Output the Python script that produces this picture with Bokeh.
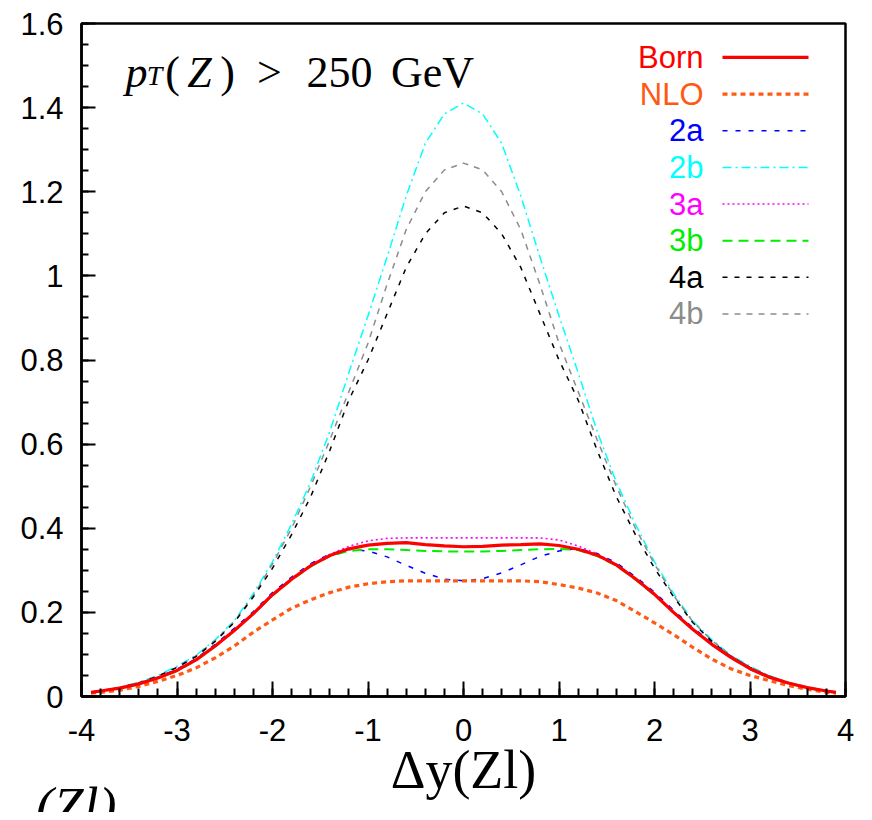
from bokeh.plotting import figure
from bokeh.models import FixedTicker, Label, PrintfTickFormatter, Title
from bokeh.embed import file_html
from bokeh.resources import INLINE
import numpy as np

# ---------------- data ----------------
dy_vals = [-3.9, -3.8, -3.6, -3.4, -3.2, -3.0, -2.8, -2.6, -2.4, -2.2, -2.0, -1.8, -1.6, -1.4,
           -1.2, -1.0, -0.8, -0.6, -0.4, -0.2, 0.0, 0.2, 0.4, 0.6, 0.8, 1.0, 1.2, 1.4, 1.6,
           1.8, 2.0, 2.2, 2.4, 2.6, 2.8, 3.0, 3.2, 3.4, 3.6, 3.8, 3.9]

born = [0.010, 0.013, 0.020, 0.030, 0.044, 0.062, 0.087, 0.120, 0.157, 0.197, 0.242, 0.279, 0.311, 0.335,
        0.351, 0.360, 0.364, 0.366, 0.361, 0.358, 0.356, 0.357, 0.360, 0.361, 0.363, 0.359, 0.350, 0.336,
        0.313, 0.280, 0.243, 0.200, 0.160, 0.124, 0.093, 0.066, 0.046, 0.032, 0.021, 0.013, 0.010]

nlo = [0.008, 0.010, 0.015, 0.024, 0.036, 0.050, 0.068, 0.092, 0.120, 0.153, 0.182, 0.210, 0.230, 0.247,
       0.260, 0.268, 0.273, 0.275, 0.275, 0.275, 0.275, 0.275, 0.275, 0.275, 0.273, 0.266, 0.258, 0.246,
       0.228, 0.202, 0.175, 0.147, 0.117, 0.089, 0.066, 0.050, 0.038, 0.026, 0.017, 0.010, 0.008]

s2a = [0.010, 0.013, 0.021, 0.031, 0.046, 0.065, 0.090, 0.124, 0.162, 0.202, 0.247, 0.284, 0.316, 0.339,
       0.350, 0.346, 0.332, 0.312, 0.293, 0.279, 0.275, 0.280, 0.294, 0.313, 0.333, 0.346, 0.352, 0.340,
       0.318, 0.285, 0.248, 0.205, 0.164, 0.128, 0.096, 0.068, 0.047, 0.033, 0.021, 0.013, 0.010]

s2b = [0.011, 0.014, 0.022, 0.034, 0.050, 0.072, 0.098, 0.135, 0.180, 0.245, 0.320, 0.410, 0.510, 0.630,
       0.770, 0.905, 1.045, 1.190, 1.315, 1.385, 1.411, 1.385, 1.315, 1.190, 1.045, 0.905, 0.770, 0.630,
       0.510, 0.410, 0.320, 0.245, 0.180, 0.135, 0.098, 0.072, 0.050, 0.034, 0.022, 0.014, 0.011]

s3a = [0.010, 0.013, 0.020, 0.031, 0.045, 0.063, 0.088, 0.121, 0.158, 0.198, 0.243, 0.280, 0.313, 0.338,
       0.357, 0.370, 0.376, 0.377, 0.377, 0.377, 0.377, 0.377, 0.377, 0.377, 0.377, 0.372, 0.358, 0.339,
       0.314, 0.281, 0.244, 0.201, 0.161, 0.125, 0.094, 0.067, 0.047, 0.032, 0.021, 0.013, 0.010]

s3b = [0.010, 0.013, 0.020, 0.030, 0.044, 0.061, 0.086, 0.119, 0.156, 0.196, 0.240, 0.277, 0.309, 0.334,
       0.346, 0.350, 0.350, 0.348, 0.346, 0.345, 0.345, 0.345, 0.346, 0.348, 0.350, 0.351, 0.348, 0.334,
       0.311, 0.278, 0.241, 0.199, 0.159, 0.123, 0.092, 0.065, 0.045, 0.031, 0.020, 0.013, 0.010]

s4a = [0.010, 0.013, 0.021, 0.032, 0.048, 0.069, 0.095, 0.131, 0.176, 0.237, 0.305, 0.385, 0.475, 0.585,
       0.705, 0.800, 0.910, 1.020, 1.100, 1.150, 1.166, 1.150, 1.100, 1.020, 0.910, 0.800, 0.705, 0.585,
       0.475, 0.385, 0.305, 0.237, 0.176, 0.131, 0.095, 0.069, 0.048, 0.032, 0.021, 0.013, 0.010]

s4b = [0.011, 0.014, 0.022, 0.033, 0.049, 0.070, 0.097, 0.133, 0.178, 0.240, 0.315, 0.400, 0.500, 0.610,
       0.725, 0.840, 0.980, 1.110, 1.200, 1.252, 1.268, 1.252, 1.200, 1.110, 0.980, 0.840, 0.725, 0.610,
       0.500, 0.400, 0.315, 0.240, 0.178, 0.133, 0.097, 0.070, 0.049, 0.033, 0.022, 0.014, 0.011]

series_names = ["Born", "NLO", "2a", "2b", "3a", "3b", "4a", "4b"]
x_ticks = [-4, -3, -2, -1, 0, 1, 2, 3, 4]
y_ticks = [0, 0.2, 0.4, 0.6, 0.8, 1.0, 1.2, 1.4, 1.6]
x_label = "Δy(Zl)"
fragment_label = "(Zl)"

# ---------------- styles ----------------
styles = {
    "Born": dict(color="#ff0000", width=3.2, dash="solid"),
    "NLO": dict(color="#ff5a14", width=3.2, dash="5 4"),
    "2a": dict(color="#0000ff", width=1.5, dash="5 8"),
    "2b": dict(color="#00ffff", width=1.5, dash="9 4 2 4"),
    "3a": dict(color="#ff00ff", width=1.6, dash="2 3"),
    "3b": dict(color="#00ee00", width=2.0, dash="10 6"),
    "4a": dict(color="#000000", width=1.5, dash="5 7"),
    "4b": dict(color="#8c8c8c", width=1.5, dash="6 6"),
}
values = {"Born": born, "NLO": nlo, "2a": s2a, "2b": s2b, "3a": s3a, "3b": s3b, "4a": s4a, "4b": s4b}

W, H = 864, 812
FL, FT, FR, FB = 81, 23, 845, 697   # frame edges in picture pixels
p = figure(width=W, height=H, x_range=(-4, 4), y_range=(0, 1.6),
           output_backend="svg", toolbar_location=None,
           min_border_left=FL, min_border_right=W - FR, min_border_top=FT, min_border_bottom=H - FB)
p.background_fill_color = "white"
p.border_fill_color = "white"
p.grid.visible = False
p.outline_line_color = "black"
p.outline_line_width = 2.5

# pixel helpers (picture px -> data coords) for annotation layout
def dxp(px):
    return -4 + (px - FL) * 8.0 / (FR - FL)

def dyp(py):
    return (FB - py) * 1.6 / (FB - FT)

serif = "Liberation Serif"

xa = p.xaxis[0]
xa.ticker = FixedTicker(ticks=x_ticks, minor_ticks=[round(v, 2) for v in np.arange(-4, 4.001, 0.2)])
xa.formatter = PrintfTickFormatter(format="%g")
ya = p.yaxis[0]
ya.ticker = FixedTicker(ticks=y_ticks, minor_ticks=[round(v, 3) for v in np.arange(0, 1.601, 0.05)])
ya.formatter = PrintfTickFormatter(format="%g")
for ax, mj, mn, so in ((xa, 15, 8, 22), (ya, 14, 7, 18)):
    ax.axis_line_width = 2.5
    ax.axis_line_color = "black"
    ax.major_tick_in = mj
    ax.major_tick_out = 0
    ax.minor_tick_in = mn
    ax.minor_tick_out = 0
    ax.major_tick_line_width = 2
    ax.minor_tick_line_width = 2
    ax.major_tick_line_color = "black"
    ax.minor_tick_line_color = "black"
    ax.major_label_text_font = "Liberation Sans"
    ax.major_label_text_font_size = "31px"
    ax.major_label_text_color = "black"
    ax.major_label_standoff = so

xa.axis_label = x_label
xa.axis_label_text_font = serif
xa.axis_label_text_font_style = "normal"
xa.axis_label_text_font_size = "54px"
xa.axis_label_text_color = "black"
xa.axis_label_standoff = -4

# fragment of a neighbouring panel's label, bottom-left (cut off by the edge, as in the source)
frag = Title(text=fragment_label, align="left", offset=-46, standoff=-52, vertical_align="top",
             text_font=serif, text_font_style="italic", text_font_size="54px", text_color="black")
p.add_layout(frag, "below")

# curves (draw Born last so it sits on top)
for name in ["2b", "4b", "4a", "2a", "3a", "3b", "NLO", "Born"]:
    st = styles[name]
    p.line(dy_vals, values[name], line_color=st["color"], line_width=st["width"],
           line_dash=st["dash"])

# legend: label left (right-aligned), sample line right
for i, name in enumerate(series_names):
    st = styles[name]
    row_y = dyp(57 + 36.7 * i)
    p.segment(x0=[dxp(722)], y0=[row_y], x1=[dxp(808)], y1=[row_y],
              line_color=st["color"], line_width=st["width"], line_dash=st["dash"])
    p.add_layout(Label(x=dxp(703), y=row_y, text=name, text_align="right",
                       text_baseline="middle", text_color=st["color"],
                       text_font="Liberation Sans", text_font_size="31px"))

# title  p_T(Z) > 250 GeV   (pieces centred at measured positions)
base = dyp(72)
title_parts = [
    ("p", 136, base, "italic", "44px"),
    ("T", 154, dyp(75), "italic", "28px"),
    ("(", 172, base, "normal", "44px"),
    ("Z", 199, base, "italic", "44px"),
    (")", 227, base, "normal", "44px"),
    (">", 269, base, "normal", "44px"),
    ("250", 339, base, "normal", "44px"),
    ("GeV", 432, base, "normal", "44px"),
]
for txt, px, yy, style, size in title_parts:
    p.add_layout(Label(x=dxp(px), y=yy, text=txt, text_align="center", text_baseline="alphabetic",
                       text_font=serif, text_font_style=style, text_font_size=size,
                       text_color="black"))

open("out.html", "w").write(file_html(p, INLINE))
